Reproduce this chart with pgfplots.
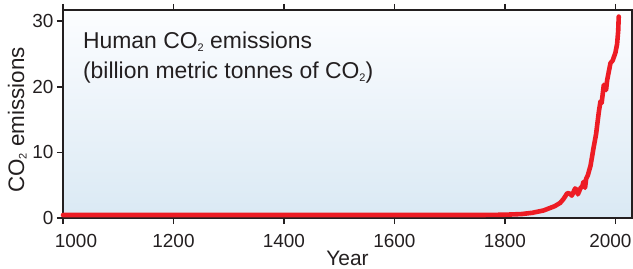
\documentclass[border=0pt]{standalone}
\usepackage{pgfplots}
\pgfplotsset{compat=1.18}
\usepackage{fontspec}
\setmainfont{Liberation Sans}
\definecolor{cred}{HTML}{ED1C24}
\definecolor{frame}{HTML}{231F20}
\definecolor{bgtop}{HTML}{FCFDFF}
\definecolor{bgbot}{HTML}{DAE9F4}
\newcommand\sub[1]{\raisebox{-2.5bp}{\fontsize{11}{11}\selectfont #1}}
\begin{document}
\begin{tikzpicture}
\begin{axis}[
  at={(0,0)}, anchor=south west,
  scale only axis, width=569bp, height=208bp,
  xmin=1000, xmax=2030, ymin=0, ymax=31.7,
  xtick={1000,1200,...,2000}, ytick={0,10,20,30},
  xticklabels={\hspace*{26bp}1000,1200,1400,1600,1800,2000\hspace*{10bp}},
  tick align=outside, major tick length=6bp,
  tick style={frame, line width=1.6bp},
  axis line style={frame, line width=1.8bp},
  axis background/.style={top color=bgtop, bottom color=bgbot},
  /pgf/number format/assume math mode=true,
  /pgf/number format/1000 sep={},
  ticklabel style={font=\fontsize{19}{22}\selectfont, text=frame},
  xticklabel style={yshift=-7bp},
  xlabel={Year},
  ylabel={CO\sub{2} emissions},
  xlabel style={font=\fontsize{21}{22}\selectfont, text=frame, yshift=4bp},
  ylabel style={font=\fontsize{22.5}{24}\selectfont, text=frame, yshift=-1bp, xshift=-6bp},
  clip=false,
]
\addplot[cred, line width=4.6bp, line join=round, line cap=round] coordinates {
(1000,0.45) (1200,0.45) (1400,0.45) (1600,0.45) (1750,0.45)
(1800,0.5) (1830,0.6) (1850,0.8) (1870,1.15) (1890,1.8)
(1900,2.3) (1906,2.9) (1913,3.8) (1918,3.7) (1921,3.4)
(1927,4.5) (1930,4.3) (1932,3.6) (1937,4.6) (1940,4.8)
(1942,5.5) (1945,4.6) (1947,6.0) (1950,6.5) (1955,8.0)
(1960,10.5) (1965,12.8) (1970,16.2) (1973,17.8) (1975,17.5)
(1979,20.3) (1980,20.0) (1983,19.5) (1985,21.0) (1991,23.6)
(1995,24.0) (2000,25.2) (2003,26.5) (2005,28.5) (2006,30.7)
};
\node[anchor=north west, align=left, inner sep=0pt, text=frame,
  font=\fontsize{23}{30}\selectfont] at (rel axis cs:0.035,0.895)
  {Human CO\sub{2} emissions\\(billion metric tonnes of CO\sub{2})};
\end{axis}
\pgfresetboundingbox
\path[use as bounding box] (-63bp,-51bp) rectangle (570bp,218bp);
\end{tikzpicture}
\end{document}
